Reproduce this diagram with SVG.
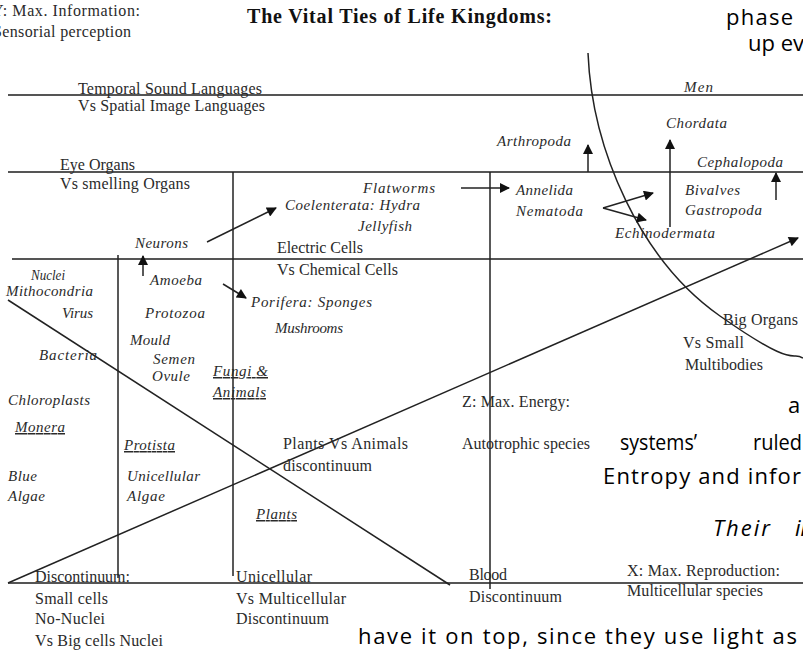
<svg xmlns="http://www.w3.org/2000/svg" width="803" height="651" viewBox="0 0 803 651">
<style>
.t{font-family:"Liberation Serif","Times New Roman",serif;font-size:16px;fill:#2a2a2a}
.i{font-style:italic;font-size:15px}
.u{text-decoration:underline}
.b{font-weight:bold;fill:#111;font-size:20px}
.c{font-family:"Open Sans","Noto Sans",sans-serif;font-size:22px;fill:#000}
.h{stroke:#555;stroke-width:2;fill:none}
.v{stroke:#222;stroke-width:1.5;fill:none}
.a{stroke:#222;stroke-width:1.5;fill:none;marker-end:url(#ah)}
</style>
<defs>
<marker id="ah" viewBox="0 0 10 10" refX="9" refY="5" markerUnits="userSpaceOnUse" markerWidth="13" markerHeight="10" orient="auto">
<path d="M0,0 L10,5 L0,10 z" fill="#111"/>
</marker>
</defs>
<rect width="803" height="651" fill="#fff"/>
<g id="connectors">
<line class="h" x1="8" y1="95" x2="803" y2="95"/>
<line class="h" x1="8" y1="172" x2="803" y2="172"/>
<line class="h" x1="12" y1="259" x2="803" y2="259"/>
<line class="h" x1="8" y1="583" x2="803" y2="583"/>
<line class="v" x1="118" y1="255" x2="118" y2="578"/>
<line class="v" x1="233" y1="172" x2="233" y2="576"/>
<line class="v" x1="490" y1="172" x2="490" y2="589"/>
<line class="v" x1="8" y1="300" x2="450" y2="585"/>
<line class="a" x1="8" y1="583" x2="798" y2="238"/>
<path class="v" d="M588,53 C592,150 640,260 720,316 S790,350 803,358"/>
<line class="a" x1="207" y1="242" x2="276" y2="208"/>
<line class="a" x1="143" y1="276" x2="143" y2="256"/>
<line class="a" x1="223" y1="284" x2="246" y2="298"/>
<line class="a" x1="461" y1="188" x2="509" y2="188"/>
<line class="a" x1="588" y1="172" x2="588" y2="145"/>
<line class="a" x1="670" y1="227" x2="670" y2="140"/>
<line class="a" x1="776" y1="200" x2="776" y2="173"/>
<line class="a" x1="603" y1="208" x2="653" y2="193"/>
<line class="a" x1="603" y1="208" x2="646" y2="220"/>
</g>
<g id="header">
<text class="t" x="-8" y="16" textLength="148" lengthAdjust="spacing">Y: Max. Information:</text>
<text class="t" x="-7" y="37" textLength="138" lengthAdjust="spacing">Sensorial perception</text>
<text class="t b" x="247" y="23" textLength="305" lengthAdjust="spacing">The Vital Ties of Life Kingdoms:</text>
</g>
<g id="page-text">
<text class="c" x="726" y="25" textLength="67" lengthAdjust="spacing">phase</text>
<text class="c" x="748" y="51">up ev</text>
<text class="c" x="788" y="413">a</text>
<text class="c" x="620" y="450" textLength="77" lengthAdjust="spacingAndGlyphs">systems’</text>
<text class="c" x="753" y="450" textLength="49" lengthAdjust="spacingAndGlyphs">ruled</text>
<text class="c" x="603" y="484" textLength="198" lengthAdjust="spacing">Entropy and infor</text>
<text class="c" x="713" y="536" font-style="italic" textLength="57" lengthAdjust="spacing">Their</text>
<text class="c" x="795" y="536" font-style="italic">in</text>
<text class="c" x="358" y="644" textLength="439" lengthAdjust="spacing">have it on top, since they use light as</text>
</g>
<g id="row-languages">
<text class="t" x="78" y="94" textLength="184" lengthAdjust="spacing">Temporal Sound Languages</text>
<text class="t" x="78" y="111" textLength="187" lengthAdjust="spacing">Vs Spatial Image Languages</text>
<text class="t i" x="684" y="92" textLength="29" lengthAdjust="spacing">Men</text>
</g>
<g id="row-organs">
<text class="t" x="60" y="170" textLength="75" lengthAdjust="spacing">Eye Organs</text>
<text class="t" x="60" y="189" textLength="130" lengthAdjust="spacing">Vs smelling Organs</text>
<text class="t i" x="497" y="146" textLength="74" lengthAdjust="spacing">Arthropoda</text>
<text class="t i" x="666" y="128" textLength="61" lengthAdjust="spacing">Chordata</text>
<text class="t i" x="697" y="167" textLength="86" lengthAdjust="spacing">Cephalopoda</text>
</g>
<g id="row-cells">
<text class="t i" x="363" y="193" textLength="72" lengthAdjust="spacing">Flatworms</text>
<text class="t i" x="285" y="210" textLength="135" lengthAdjust="spacing">Coelenterata: Hydra</text>
<text class="t i" x="358" y="231" textLength="54" lengthAdjust="spacing">Jellyfish</text>
<text class="t" x="277" y="253" textLength="86" lengthAdjust="spacing">Electric Cells</text>
<text class="t" x="277" y="275" textLength="121" lengthAdjust="spacing">Vs Chemical Cells</text>
<text class="t i" x="135" y="248" textLength="53" lengthAdjust="spacing">Neurons</text>
<text class="t i" x="516" y="195" textLength="57" lengthAdjust="spacing">Annelida</text>
<text class="t i" x="516" y="216" textLength="67" lengthAdjust="spacing">Nematoda</text>
<text class="t i" x="685" y="195" textLength="55" lengthAdjust="spacing">Bivalves</text>
<text class="t i" x="685" y="215" textLength="77" lengthAdjust="spacing">Gastropoda</text>
<text class="t i" x="615" y="238" textLength="100" lengthAdjust="spacing">Echinodermata</text>
</g>
<g id="monera">
<text class="t i" x="31" y="280" textLength="34" lengthAdjust="spacingAndGlyphs">Nuclei</text>
<text class="t i" x="6" y="296" textLength="87" lengthAdjust="spacing">Mithocondria</text>
<text class="t i" x="62" y="318" textLength="31" lengthAdjust="spacing">Virus</text>
<text class="t i" x="39" y="360" textLength="58" lengthAdjust="spacing">Bacteria</text>
<text class="t i" x="8" y="405" textLength="82" lengthAdjust="spacing">Chloroplasts</text>
<text class="t i u" x="15" y="432" textLength="50" lengthAdjust="spacing">Monera</text>
<text class="t i" x="8" y="481" textLength="29" lengthAdjust="spacing">Blue</text>
<text class="t i" x="8" y="501" textLength="37" lengthAdjust="spacing">Algae</text>
</g>
<g id="protista">
<text class="t i" x="150" y="285" textLength="52" lengthAdjust="spacing">Amoeba</text>
<text class="t i" x="145" y="318" textLength="60" lengthAdjust="spacing">Protozoa</text>
<text class="t i" x="130" y="345" textLength="40" lengthAdjust="spacing">Mould</text>
<text class="t i" x="153" y="364" textLength="42" lengthAdjust="spacing">Semen</text>
<text class="t i" x="152" y="381" textLength="38" lengthAdjust="spacing">Ovule</text>
<text class="t i u" x="124" y="450" textLength="51" lengthAdjust="spacing">Protista</text>
<text class="t i" x="127" y="481" textLength="73" lengthAdjust="spacing">Unicellular</text>
<text class="t i" x="127" y="501" textLength="38" lengthAdjust="spacing">Algae</text>
</g>
<g id="fungi-animals">
<text class="t i" x="251" y="307" textLength="121" lengthAdjust="spacing">Porifera: Sponges</text>
<text class="t i" x="275" y="333" textLength="68" lengthAdjust="spacing">Mushrooms</text>
<text class="t i u" x="213" y="376" textLength="55" lengthAdjust="spacing">Fungi &amp;</text>
<text class="t i u" x="213" y="397" textLength="53" lengthAdjust="spacing">Animals</text>
<text class="t" x="283" y="449" textLength="125" lengthAdjust="spacing">Plants  Vs Animals</text>
<text class="t" x="283" y="471" textLength="89" lengthAdjust="spacing">discontinuum</text>
<text class="t i u" x="256" y="519" textLength="41" lengthAdjust="spacing">Plants</text>
</g>
<g id="energy">
<text class="t" x="462" y="407" textLength="108" lengthAdjust="spacing">Z: Max. Energy:</text>
<text class="t" x="462" y="449" textLength="128" lengthAdjust="spacing">Autotrophic species</text>
<text class="t" x="723" y="325" textLength="75" lengthAdjust="spacing">Big Organs</text>
<text class="t" x="683" y="348" textLength="61" lengthAdjust="spacing">Vs Small</text>
<text class="t" x="685" y="370" textLength="78" lengthAdjust="spacing">Multibodies</text>
</g>
<g id="bottom">
<text class="t" x="35" y="582" textLength="95" lengthAdjust="spacing">Discontinuum:</text>
<text class="t" x="35" y="604" textLength="73" lengthAdjust="spacing">Small cells</text>
<text class="t" x="35" y="624" textLength="70" lengthAdjust="spacing">No-Nuclei</text>
<text class="t" x="35" y="646" textLength="128" lengthAdjust="spacing">Vs Big cells Nuclei</text>
<text class="t" x="236" y="582" textLength="76" lengthAdjust="spacing">Unicellular</text>
<text class="t" x="236" y="604" textLength="110" lengthAdjust="spacing">Vs Multicellular</text>
<text class="t" x="236" y="624" textLength="93" lengthAdjust="spacing">Discontinuum</text>
<text class="t" x="469" y="580" textLength="38" lengthAdjust="spacing">Blood</text>
<text class="t" x="469" y="602" textLength="93" lengthAdjust="spacing">Discontinuum</text>
<text class="t" x="627" y="576" textLength="153" lengthAdjust="spacing">X: Max. Reproduction:</text>
<text class="t" x="627" y="596" textLength="136" lengthAdjust="spacing">Multicellular species</text>
</g>
</svg>
